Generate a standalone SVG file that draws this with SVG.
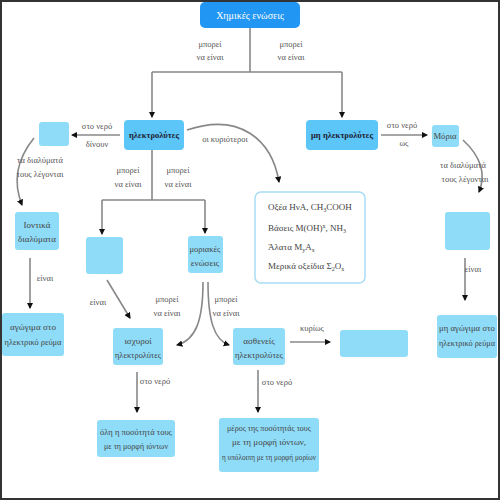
<svg xmlns="http://www.w3.org/2000/svg" width="500" height="500" viewBox="0 0 500 500">
<defs>
<style>
text{font-family:"Liberation Serif","DejaVu Serif",serif;font-size:9px;fill:#444;text-anchor:middle}
.lbl{fill:#555;font-size:8.5px}
.w{fill:#fff;font-size:10px}
.b{font-weight:bold;fill:#223}
.l{text-anchor:start}
.dark{fill:#2196F3}
.mid{fill:#5BC6F7}
.lt{fill:#8FDCF8}
.c{fill:none;stroke:#888;stroke-width:1.6}
</style>
<marker id="ah" viewBox="0 0 6 6" refX="5" refY="3" markerWidth="4" markerHeight="4" orient="auto">
<path d="M0,0L6,3L0,6z" fill="#111"/>
</marker>
</defs>
<rect x="1" y="1" width="498" height="498" fill="#fff" stroke="#333" stroke-width="2"/>
<g id="connectors">
<path class="c" d="M250,28V72M152,72H342"/>
<path class="c" d="M152,72V117" marker-end="url(#ah)"/>
<path class="c" d="M342,72V117" marker-end="url(#ah)"/>
<path class="c" d="M120,135H72" marker-end="url(#ah)"/>
<path class="c" d="M34,138Q8,170 22,205" marker-end="url(#ah)"/>
<path class="c" d="M30,258V308" marker-end="url(#ah)"/>
<path class="c" d="M152,150V200M102,200H205"/>
<path class="c" d="M102,200V234" marker-end="url(#ah)"/>
<path class="c" d="M205,200V233" marker-end="url(#ah)"/>
<path class="c" d="M107,280L130,318" marker-end="url(#ah)"/>
<path class="c" d="M203,282C203,320 196,340 177,345" marker-end="url(#ah)"/>
<path class="c" d="M208,282C208,320 214,340 229,345" marker-end="url(#ah)"/>
<path class="c" d="M290,342H330" marker-end="url(#ah)"/>
<path class="c" d="M137,372V412" marker-end="url(#ah)"/>
<path class="c" d="M258,370V412" marker-end="url(#ah)"/>
<path class="c" d="M187,130C240,112 272,140 279,182" marker-end="url(#ah)"/>
<path class="c" d="M381,135H427" marker-end="url(#ah)"/>
<path class="c" d="M463,140Q490,165 479,192" marker-end="url(#ah)"/>
<path class="c" d="M465,258V300" marker-end="url(#ah)"/>
</g>
<g id="labels">
<text class="lbl" x="210" y="47">μπορεί</text><text class="lbl" x="210" y="60">να είναι</text>
<text class="lbl" x="291" y="47">μπορεί</text><text class="lbl" x="291" y="60">να είναι</text>
<text class="lbl" x="97" y="129">στο νερό</text><text class="lbl" x="97" y="147">δίνουν</text>
<text class="lbl" x="40" y="163">τα διαλύματά</text><text class="lbl" x="40" y="177">τους λέγονται</text>
<text class="lbl" x="45" y="281">είναι</text>
<text class="lbl" x="128" y="173">μπορεί</text><text class="lbl" x="128" y="187">να είναι</text>
<text class="lbl" x="178" y="173">μπορεί</text><text class="lbl" x="178" y="187">να είναι</text>
<text class="lbl" x="98" y="305">είναι</text>
<text class="lbl" x="167" y="302">μπορεί</text><text class="lbl" x="167" y="316">να είναι</text>
<text class="lbl" x="226" y="302">μπορεί</text><text class="lbl" x="226" y="316">να είναι</text>
<text class="lbl" x="312" y="331">κυρίως</text>
<text class="lbl" x="155" y="384">στο νερό</text>
<text class="lbl" x="277" y="385">στο νερό</text>
<text class="lbl" x="225" y="142">οι κυριότεροι</text>
<text class="lbl" x="402" y="128">στο νερό</text><text class="lbl" x="404" y="146">ως</text>
<text class="lbl" x="463" y="168">τα διαλύματά</text><text class="lbl" x="465" y="182">τους λέγονται</text>
<text class="lbl" x="473" y="272">είναι</text>
</g>
<g id="n-top"><rect class="dark" x="200" y="2" width="100" height="26" rx="5"/><text class="w" x="250" y="19">Χημικές ενώσεις</text></g>
<g id="n-el"><rect class="mid" x="124" y="120" width="60" height="30" rx="4"/><text class="b" x="154" y="138" textLength="50" lengthAdjust="spacingAndGlyphs">ηλεκτρολύτες</text></g>
<g id="n-nonel"><rect class="mid" x="306" y="120" width="72" height="30" rx="4"/><text class="b" x="342" y="138" textLength="62" lengthAdjust="spacingAndGlyphs">μη ηλεκτρολύτες</text></g>
<g id="n-e1"><rect class="lt" x="39" y="122" width="30" height="24" rx="3"/></g>
<g id="n-ion"><rect class="lt" x="15" y="212" width="44" height="38" rx="3"/><text x="37" y="228">Ιοντικά</text><text x="37" y="242">διαλύματα</text></g>
<g id="n-cond"><rect class="lt" x="2" y="313" width="62" height="43" rx="3"/><text x="33" y="330">αγώγιμα στο</text><text x="33" y="345" textLength="57" lengthAdjust="spacingAndGlyphs">ηλεκτρικό ρεύμα</text></g>
<g id="n-e2"><rect class="lt" x="86" y="237" width="37" height="37" rx="3"/></g>
<g id="n-mol"><rect class="lt" x="188" y="236" width="35" height="37" rx="3"/><text x="205" y="252" textLength="31" lengthAdjust="spacingAndGlyphs">μοριακές</text><text x="205" y="266">ενώσεις</text></g>
<g id="n-strong"><rect class="lt" x="113" y="328" width="50" height="37" rx="3"/><text x="138" y="344">ισχυροί</text><text x="138" y="358" textLength="46" lengthAdjust="spacingAndGlyphs">ηλεκτρολύτες</text></g>
<g id="n-weak"><rect class="lt" x="233" y="328" width="52" height="37" rx="3"/><text x="259" y="344">ασθενείς</text><text x="259" y="358" textLength="48" lengthAdjust="spacingAndGlyphs">ηλεκτρολύτες</text></g>
<g id="n-e3"><rect class="lt" x="340" y="330" width="68" height="27" rx="3"/></g>
<g id="n-all"><rect class="lt" x="97" y="420" width="78" height="37" rx="3"/><text x="136" y="435" textLength="72" lengthAdjust="spacingAndGlyphs">όλη η ποσότητά τους</text><text x="136" y="449" textLength="64" lengthAdjust="spacingAndGlyphs">με τη μορφή ιόντων</text></g>
<g id="n-part"><rect class="lt" x="219" y="418" width="100" height="54" rx="3"/><text x="269" y="431" textLength="84" lengthAdjust="spacingAndGlyphs">μέρος της ποσότητάς τους</text><text x="269" y="445">με τη μορφή ιόντων,</text><text x="269" y="460" textLength="94" lengthAdjust="spacingAndGlyphs">η υπόλοιπη με τη μορφή μορίων</text></g>
<g id="n-list"><rect x="255" y="192" width="110" height="91" rx="6" fill="#fff" stroke="#A6DDF5" stroke-width="1.5"/>
<text class="l" x="268" y="210">Οξέα ΗνΑ, CH<tspan font-size="6" dy="2">3</tspan><tspan dy="-2">COOH</tspan></text>
<text class="l" x="268" y="231">Βάσεις Μ(ΟΗ)<tspan font-size="6" dy="-3">x</tspan><tspan dy="3">, NH</tspan><tspan font-size="6" dy="2">3</tspan></text>
<text class="l" x="268" y="250">Άλατα Μ<tspan font-size="6" dy="2">y</tspan><tspan dy="-2">Α</tspan><tspan font-size="6" dy="2">x</tspan></text>
<text class="l" x="268" y="269">Μερικά οξείδια Σ<tspan font-size="6" dy="2">2</tspan><tspan dy="-2">Ο</tspan><tspan font-size="6" dy="2">x</tspan></text>
</g>
<g id="n-molr"><rect class="lt" x="432" y="125" width="27" height="22" rx="3"/><text x="445" y="139" textLength="23" lengthAdjust="spacingAndGlyphs">Μόρια</text></g>
<g id="n-e4"><rect class="lt" x="445" y="212" width="45" height="38" rx="3"/></g>
<g id="n-noncond"><rect class="lt" x="437" y="315" width="60" height="43" rx="3"/><text x="467" y="331" textLength="56" lengthAdjust="spacingAndGlyphs">μη αγώγιμα στο</text><text x="467" y="346" textLength="56" lengthAdjust="spacingAndGlyphs">ηλεκτρικό ρεύμα</text></g>
</svg>
